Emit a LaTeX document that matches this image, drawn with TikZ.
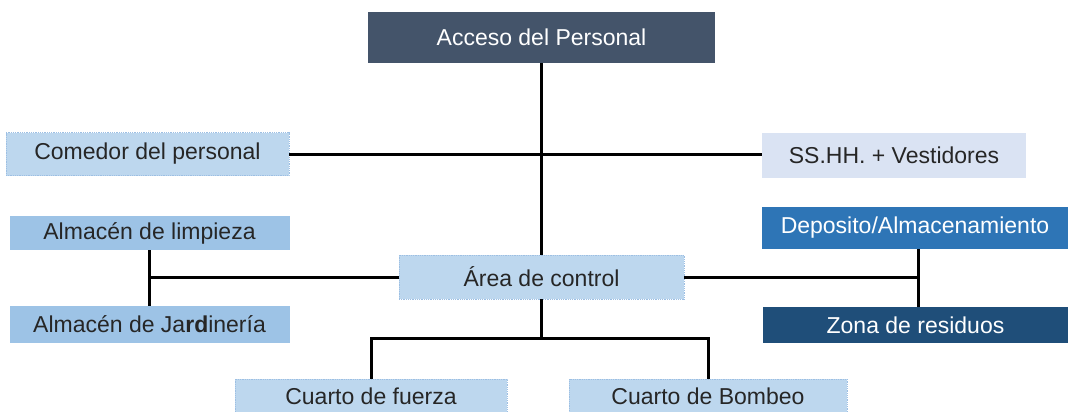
\documentclass[tikz,border=0pt]{standalone}
\usepackage{fontspec}
\setmainfont{Liberation Sans}
\definecolor{cAcc}{HTML}{44546A}
\definecolor{cLight}{HTML}{BDD7EE}
\definecolor{cPale}{HTML}{DAE3F3}
\definecolor{cMid}{HTML}{9DC3E6}
\definecolor{cBlue}{HTML}{2E75B6}
\definecolor{cNavy}{HTML}{1F4E79}
\definecolor{cText}{HTML}{262626}
\definecolor{cDot}{HTML}{9DBFE3}
\begin{document}
\begin{tikzpicture}[x=1pt,y=-1pt,
  box/.style={rectangle,inner sep=0pt,font=\fontsize{23}{27}\selectfont,text=cText},
  dotbox/.style={box,fill=cLight,draw=cDot,densely dotted,line width=0.8pt},
  conn/.style={line width=3pt,black},
]
\useasboundingbox (0,0) rectangle (1068,412);
\clip (0,0) rectangle (1068,412);
\node[box,fill=cAcc,text=white,minimum width=347pt,minimum height=51pt] (acc) at (541.5,37.5) {Acceso del Personal};
\node[dotbox,minimum width=283pt,minimum height=43pt] (com) at (147.5,154) {Comedor del personal};
\node[box,fill=cPale,minimum width=264pt,minimum height=45pt] (ssh) at (894,155.5) {SS.HH. + Vestidores};
\node[box,fill=cMid,minimum width=280pt,minimum height=34pt] (lim) at (149.5,233) {Almacén de limpieza};
\node[box,fill=cMid,minimum width=280pt,minimum height=37pt] (jar) at (149.5,324.5) {Almacén de Ja\textbf{rd}inería};
\node[dotbox,minimum width=285pt,minimum height=44pt] (area) at (541.5,277) {Área de control};
\node[box,fill=cBlue,text=white,minimum width=306pt,minimum height=42pt] (dep) at (915,228) {Deposito/Almacenamiento};
\node[box,fill=cNavy,text=white,minimum width=305pt,minimum height=36pt] (zon) at (915.5,325) {Zona de residuos};
\node[dotbox,minimum width=272pt,minimum height=34pt] (fue) at (371,396) {Cuarto de fuerza};
\node[dotbox,minimum width=278pt,minimum height=34pt] (bom) at (708,396) {Cuarto de Bombeo};
\coordinate (bj) at (541.5,338);
\coordinate (rj) at (918,277);
\draw[conn] (acc.south) -- (area.north);
\draw[conn] (com.east) -- (com.east -| ssh.west);
\draw[conn] (lim.south) -- (jar.north);
\draw[conn] (area.west) -- (area.west -| lim.south);
\draw[conn] (dep.south -| rj) -- (zon.north -| rj);
\draw[conn] (area.east) -- (rj);
\draw[conn] (area.south) -- (bj);
\draw[conn] (fue.north) |- (bj) -| (bom.north);
\end{tikzpicture}
\end{document}
